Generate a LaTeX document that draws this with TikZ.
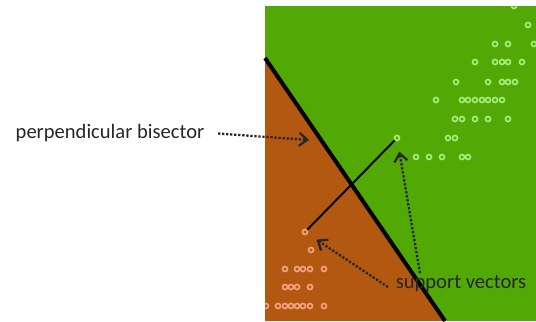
\documentclass[tikz,border=0pt]{standalone}
\usepackage{fontspec}
\setmainfont{Carlito}
\usetikzlibrary{arrows.meta,calc}

\definecolor{fieldgreen}{RGB}{82,168,4}
\definecolor{fieldbrown}{RGB}{178,88,16}
\definecolor{dotgreen}{RGB}{170,238,130}
\definecolor{dotred}{RGB}{246,165,135}

\begin{document}
\begin{tikzpicture}[x=0.02cm,y=-0.02cm,line width=1pt,>={Straight Barb[length=1.6mm,width=2.6mm]},
  gdot/.style={circle,draw=dotgreen,line width=0.9pt,inner sep=0pt,minimum size=0.1cm},
  rdot/.style={circle,draw=dotred,line width=0.9pt,inner sep=0pt,minimum size=0.1cm},
  lbl/.style={font=\fontsize{11.7}{14}\selectfont,text=black!85},
  arr/.style={->,densely dotted,line width=1.3pt,black!85}]
  \useasboundingbox (0,0) rectangle (536,321);
  % the two regions
  \fill[fieldgreen] (265,6) rectangle (536,321);
  \fill[fieldbrown] (265,58) -- (445,321) -- (265,321) -- cycle;
  \draw[line width=2.3pt] (265,58) -- (445,321);
  % data points
  \begin{scope}
    \clip (265,6) rectangle (536,321);
    \foreach \x/\y in {514/6,528/25,495/44,508/44,534/44,
      475/62,495/62,502/62,508/62,522/62,
      456/82,488/82,502/82,508/82,515/82,
      436/100,462/100,468/100,475/100,482/100,488/100,495/100,502/100,
      455/119,462/119,475/119,488/119,508/119,
      448/138,455/138,416/157,429/157,442/157,462/157,468/157}
      \node[gdot] at (\x,\y) {};
    \foreach \x/\y in {311/250,285/269,297/269,303/269,310/269,324/269,
      285/287,291/287,297/287,310/287,
      266/306,278/306,285/306,291/306,297/306,303/306,310/306,324/306}
      \node[rdot] at (\x,\y) {};
  \end{scope}
  \node[gdot] (svg) at (397,138) {};
  \node[rdot] (svr) at (305,232) {};
  \draw[line width=1.1pt] (svr) -- (svg);
  % labels
  \node[lbl] (bis) at (110,133) {perpendicular bisector};
  \node[lbl] (sv) at (461,284) {support vectors};
  \coordinate (bisat) at (309,140);
  \draw[arr,shorten <=4pt] (bis.east) -- (bisat);
  \draw[arr,shorten >=6pt] ($(sv.north)+(-41,4)$) -- (svg);
  \draw[arr,shorten >=6pt] ($(sv.north)+(-73,18)$) -- (svr);
\end{tikzpicture}
\end{document}
